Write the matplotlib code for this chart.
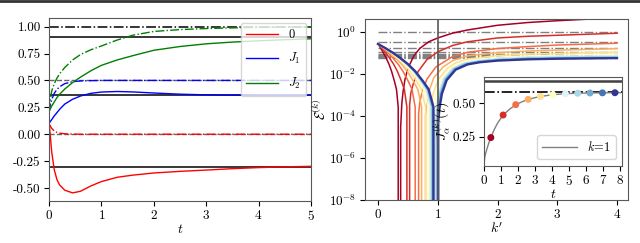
import numpy as np
import matplotlib
matplotlib.use("Agg")
import matplotlib.pyplot as plt
from matplotlib.lines import Line2D

plt.rcParams["font.family"] = "serif"
plt.rcParams["font.serif"] = ["cmr10"]
plt.rcParams["mathtext.fontset"] = "cm"
plt.rcParams["axes.formatter.use_mathtext"] = True
plt.rcParams["axes.edgecolor"] = "0.35"
plt.rcParams["xtick.labelsize"] = 9.5
plt.rcParams["ytick.labelsize"] = 9.5
plt.rcParams["xtick.major.pad"] = 2.5
plt.rcParams["ytick.major.pad"] = 2.5

# ---- left panel: time evolution ----
t = [0, 0.02, 0.05, 0.1, 0.15, 0.2, 0.3, 0.45, 0.6, 0.8, 1.0, 1.3, 1.6, 2.0, 2.5, 3.0, 3.5, 4.0, 4.5, 5.0]
red_solid = [0.10, 0.01, -0.16, -0.33, -0.42, -0.47, -0.52, -0.545, -0.53, -0.48, -0.44, -0.40, -0.38, -0.36,
             -0.345, -0.333, -0.32, -0.31, -0.303, -0.298]
red_dashdot = [0.10, 0.08, 0.055, 0.03, 0.017, 0.01, 0.004, 0.001, 0, 0, 0, 0, 0, 0, 0, 0, 0, 0, 0, 0]
blue_solid = [0.10, 0.115, 0.135, 0.17, 0.20, 0.23, 0.28, 0.325, 0.355, 0.38, 0.392, 0.397, 0.393, 0.383,
              0.372, 0.366, 0.363, 0.362, 0.362, 0.362]
blue_dashdot = [0.20, 0.26, 0.32, 0.38, 0.415, 0.44, 0.47, 0.488, 0.495, 0.498, 0.5, 0.5, 0.5, 0.5,
                0.5, 0.5, 0.5, 0.5, 0.5, 0.5]
green_solid = [0.21, 0.23, 0.26, 0.30, 0.34, 0.37, 0.42, 0.48, 0.53, 0.59, 0.64, 0.69, 0.73, 0.78,
               0.815, 0.84, 0.856, 0.868, 0.878, 0.887]
green_dashdot = [0.21, 0.30, 0.40, 0.47, 0.52, 0.56, 0.62, 0.69, 0.74, 0.785, 0.82, 0.875, 0.92, 0.955,
                 0.972, 0.982, 0.988, 0.992, 0.995, 0.997]
steady_solid = [-0.30, 0.362, 0.907]   # black solid reference levels
steady_dashed = [0.0, 0.5]             # gray dashed reference levels
steady_dashdot = 1.0

# ---- right panel: E^(k) vs k' ----
dip_k = [0.365, 0.52, 0.67, 0.785, 0.857, 0.90, 0.936, 0.96, 0.978, 0.99, 1.0]
left_E = [0.26, 0.164, 0.099, 0.0555, 0.029, 0.013, 0.0046, 0.0018, 0.00026, 0.0]
left_k = [
    [0, 0.046, 0.091, 0.137, 0.183, 0.228, 0.274, 0.310, 0.339, 0.365],
    [0, 0.065, 0.13, 0.195, 0.26, 0.325, 0.39, 0.442, 0.484, 0.52],
    [0, 0.084, 0.168, 0.251, 0.335, 0.419, 0.503, 0.57, 0.623, 0.67],
    [0, 0.098, 0.196, 0.294, 0.393, 0.491, 0.589, 0.667, 0.730, 0.785],
    [0, 0.107, 0.214, 0.321, 0.429, 0.536, 0.643, 0.728, 0.797, 0.857],
    [0, 0.113, 0.225, 0.338, 0.45, 0.563, 0.675, 0.765, 0.837, 0.90],
    [0, 0.117, 0.234, 0.351, 0.468, 0.585, 0.702, 0.796, 0.870, 0.936],
    [0, 0.12, 0.24, 0.36, 0.48, 0.6, 0.72, 0.816, 0.893, 0.96],
    [0, 0.122, 0.245, 0.367, 0.489, 0.611, 0.734, 0.831, 0.910, 0.978],
    [0, 0.124, 0.248, 0.371, 0.495, 0.619, 0.743, 0.842, 0.921, 0.99],
    [0, 0.125, 0.25, 0.375, 0.5, 0.625, 0.75, 0.85, 0.93, 1.0],
]
right_k = [
    [0.38, 0.40, 0.42, 0.45, 0.5, 0.6, 0.7, 0.85, 1.0, 1.25, 1.5, 2.0, 2.5, 3.0, 3.5, 4.0],
    [0.53, 0.55, 0.59, 0.67, 0.82, 1.0, 1.25, 1.5, 2.0, 2.5, 3.0, 3.5, 4.0],
    [0.68, 0.70, 0.74, 0.82, 0.97, 1.25, 1.5, 2.0, 2.5, 3.0, 3.5, 4.0],
    [0.795, 0.815, 0.855, 0.935, 1.085, 1.25, 1.5, 2.0, 2.5, 3.0, 4.0],
    [0.867, 0.887, 0.927, 1.007, 1.157, 1.3, 1.5, 2.0, 2.5, 3.0, 4.0],
    [0.91, 0.93, 0.97, 1.05, 1.2, 1.35, 1.5, 2.0, 2.5, 3.0, 4.0],
    [0.946, 0.966, 1.006, 1.086, 1.236, 1.4, 1.6, 2.0, 2.5, 3.0, 4.0],
    [0.97, 0.99, 1.03, 1.11, 1.26, 1.45, 1.7, 2.0, 2.5, 3.0, 4.0],
    [0.988, 1.008, 1.048, 1.128, 1.278, 1.478, 1.7, 2.0, 2.5, 3.0, 4.0],
    [1.0, 1.02, 1.06, 1.14, 1.29, 1.49, 1.7, 2.0, 2.5, 3.0, 4.0],
    [1.01, 1.03, 1.07, 1.15, 1.3, 1.5, 1.7, 2.0, 2.5, 3.0, 4.0],
]
right_E = [
    [3e-5, 4e-4, 1.4e-3, 5e-3, 0.018, 0.07, 0.16, 0.33, 0.5, 0.85, 1.2, 2.0, 2.7, 3.3, 3.9, 4.4],
    [3.3e-4, 1.2e-3, 3.3e-3, 0.0125, 0.047, 0.11, 0.22, 0.33, 0.5, 0.6, 0.67, 0.75, 0.84],
    [1.25e-4, 4.4e-4, 1.4e-3, 5.6e-3, 0.021, 0.066, 0.104, 0.157, 0.194, 0.23, 0.255, 0.28],
    [9.8e-5, 3.9e-4, 1.55e-3, 6.5e-3, 0.0204, 0.042, 0.071, 0.10, 0.12, 0.132, 0.155],
    [7.4e-5, 2.9e-4, 1.26e-3, 5.3e-3, 0.0174, 0.033, 0.05, 0.073, 0.085, 0.093, 0.105],
    [6.7e-5, 2.7e-4, 1.2e-3, 5.4e-3, 0.0178, 0.030, 0.0426, 0.0616, 0.0707, 0.0766, 0.085],
    [6.4e-5, 2.55e-4, 1.2e-3, 5.5e-3, 0.0173, 0.030, 0.0405, 0.054, 0.062, 0.0665, 0.072],
    [6.5e-5, 2.6e-4, 1.3e-3, 5.8e-3, 0.018, 0.031, 0.041, 0.049, 0.057, 0.061, 0.065],
    [6e-5, 2.4e-4, 1.2e-3, 5.3e-3, 0.0169, 0.030, 0.0387, 0.046, 0.053, 0.056, 0.06],
    [5.7e-5, 2.3e-4, 1.15e-3, 5.1e-3, 0.016, 0.0285, 0.036, 0.0435, 0.050, 0.053, 0.057],
    [5.5e-5, 2.2e-4, 1.1e-3, 4.9e-3, 0.0155, 0.0275, 0.0347, 0.0417, 0.048, 0.0513, 0.055],
]
asymptotes = [5.0, 0.93, 0.31, 0.165, 0.11, 0.09, 0.076, 0.068, 0.063, 0.06, 0.058]

# ---- inset: J_alpha^(k)(t) for k=1 ----
inset_t = [0, 0.05, 0.1, 0.2, 0.3, 0.41, 0.6, 0.8, 1.13, 1.5, 1.87, 2.3, 2.6, 3.0, 3.32, 4.04, 4.78,
           5.5, 6.22, 6.95, 7.68, 8.0]
inset_J = [0.03, 0.09, 0.12, 0.165, 0.205, 0.242, 0.30, 0.35, 0.412, 0.455, 0.49, 0.515, 0.53, 0.543,
           0.552, 0.565, 0.573, 0.576, 0.578, 0.579, 0.58, 0.58]
dot_t = [0.41, 1.13, 1.87, 2.6, 3.32, 4.04, 4.78, 5.5, 6.22, 6.95, 7.68]
dot_J = [0.242, 0.412, 0.49, 0.53, 0.552, 0.565, 0.573, 0.576, 0.578, 0.579, 0.58]

fig = plt.figure(figsize=(6.4, 2.43), dpi=100)
fig.add_artist(Line2D([0, 1], [0.997, 0.997], color="0.2", lw=2))

ax1 = fig.add_axes([0.0766, 0.173, 0.4094, 0.753])
for y in steady_solid:
    ax1.axhline(y, color="black", lw=1.1)
for y in steady_dashed:
    ax1.axhline(y, color="0.4", lw=1, ls="--")
ax1.axhline(steady_dashdot, color="black", lw=1.1, ls="-.")
ax1.plot(t, red_solid, color="r", lw=1, label=r"$\mathit{0}$")
ax1.plot(t, red_dashdot, color="r", lw=1, ls="-.")
ax1.plot(t, blue_solid, color="b", lw=1, label=r"$J_1$")
ax1.plot(t, blue_dashdot, color="b", lw=1, ls="-.")
ax1.plot(t, green_solid, color="g", lw=1, label=r"$J_2$")
ax1.plot(t, green_dashdot, color="g", lw=1, ls="-.")
ax1.set_xlim(0, 5)
ax1.set_ylim(-0.62, 1.08)
ax1.set_yticks([-0.5, -0.25, 0, 0.25, 0.5, 0.75, 1.0])
ax1.yaxis.set_major_formatter(plt.FormatStrFormatter("%.2f"))
ax1.set_xlabel(r"$t$", fontsize=10, labelpad=0)
ax1.legend(loc="upper right", fontsize=9, handlelength=2.6, borderaxespad=0.4, labelspacing=0.8)

ax2 = fig.add_axes([0.570, 0.177, 0.411, 0.745])
ax2.set_yscale("log", nonpositive="clip")
cmap = plt.get_cmap("RdYlBu")
colors = [cmap(v) for v in np.linspace(0, 1, len(dip_k))]
ax2.hlines(asymptotes, 0, 4, colors="gray", linestyles="-.", lw=1, zorder=1)
for i in range(len(dip_k)):
    ks = left_k[i] + right_k[i]
    es = left_E + right_E[i]
    ax2.plot(ks, es, color=colors[i], lw=1.6 if i == len(dip_k) - 1 else 1.1, zorder=2)
ax2.axvline(1, color="0.35", lw=1.2, zorder=3)
ax2.set_xlim(-0.22, 4.18)
ax2.set_ylim(1e-8, 4)
ax2.set_yticks([1e-8, 1e-6, 1e-4, 1e-2, 1])
ax2.yaxis.set_minor_locator(plt.NullLocator())
ax2.set_xticks([0, 1, 2, 3, 4])
ax2.set_xlabel(r"$k'$", fontsize=10, labelpad=0)
ax2.set_ylabel(r"$\mathcal{E}^{(k)}$", fontsize=10, labelpad=0)

ax3 = fig.add_axes([0.756, 0.318, 0.216, 0.366])
ax3.axhline(0.67, color="0.25", lw=1.8)
ax3.axhline(0.585, color="black", lw=1.2, ls="-.")
ax3.plot(inset_t, inset_J, color="gray", lw=1, label=r"$k$=1")
ax3.scatter(dot_t, dot_J, c=colors, s=16, zorder=3)
ax3.set_xlim(0, 8.1)
ax3.set_ylim(0.03, 0.70)
ax3.set_xticks(range(9))
ax3.set_yticks([0.25, 0.5])
ax3.yaxis.set_major_formatter(plt.FormatStrFormatter("%.2f"))
ax3.set_xlabel(r"$t$", fontsize=10, labelpad=0)
ax3.set_ylabel(r"$J_\alpha^{(k)}(t)$", fontsize=10, labelpad=0)
ax3.legend(loc="lower right", fontsize=9, handlelength=2.8)

fig.savefig("out.png", dpi=100)
